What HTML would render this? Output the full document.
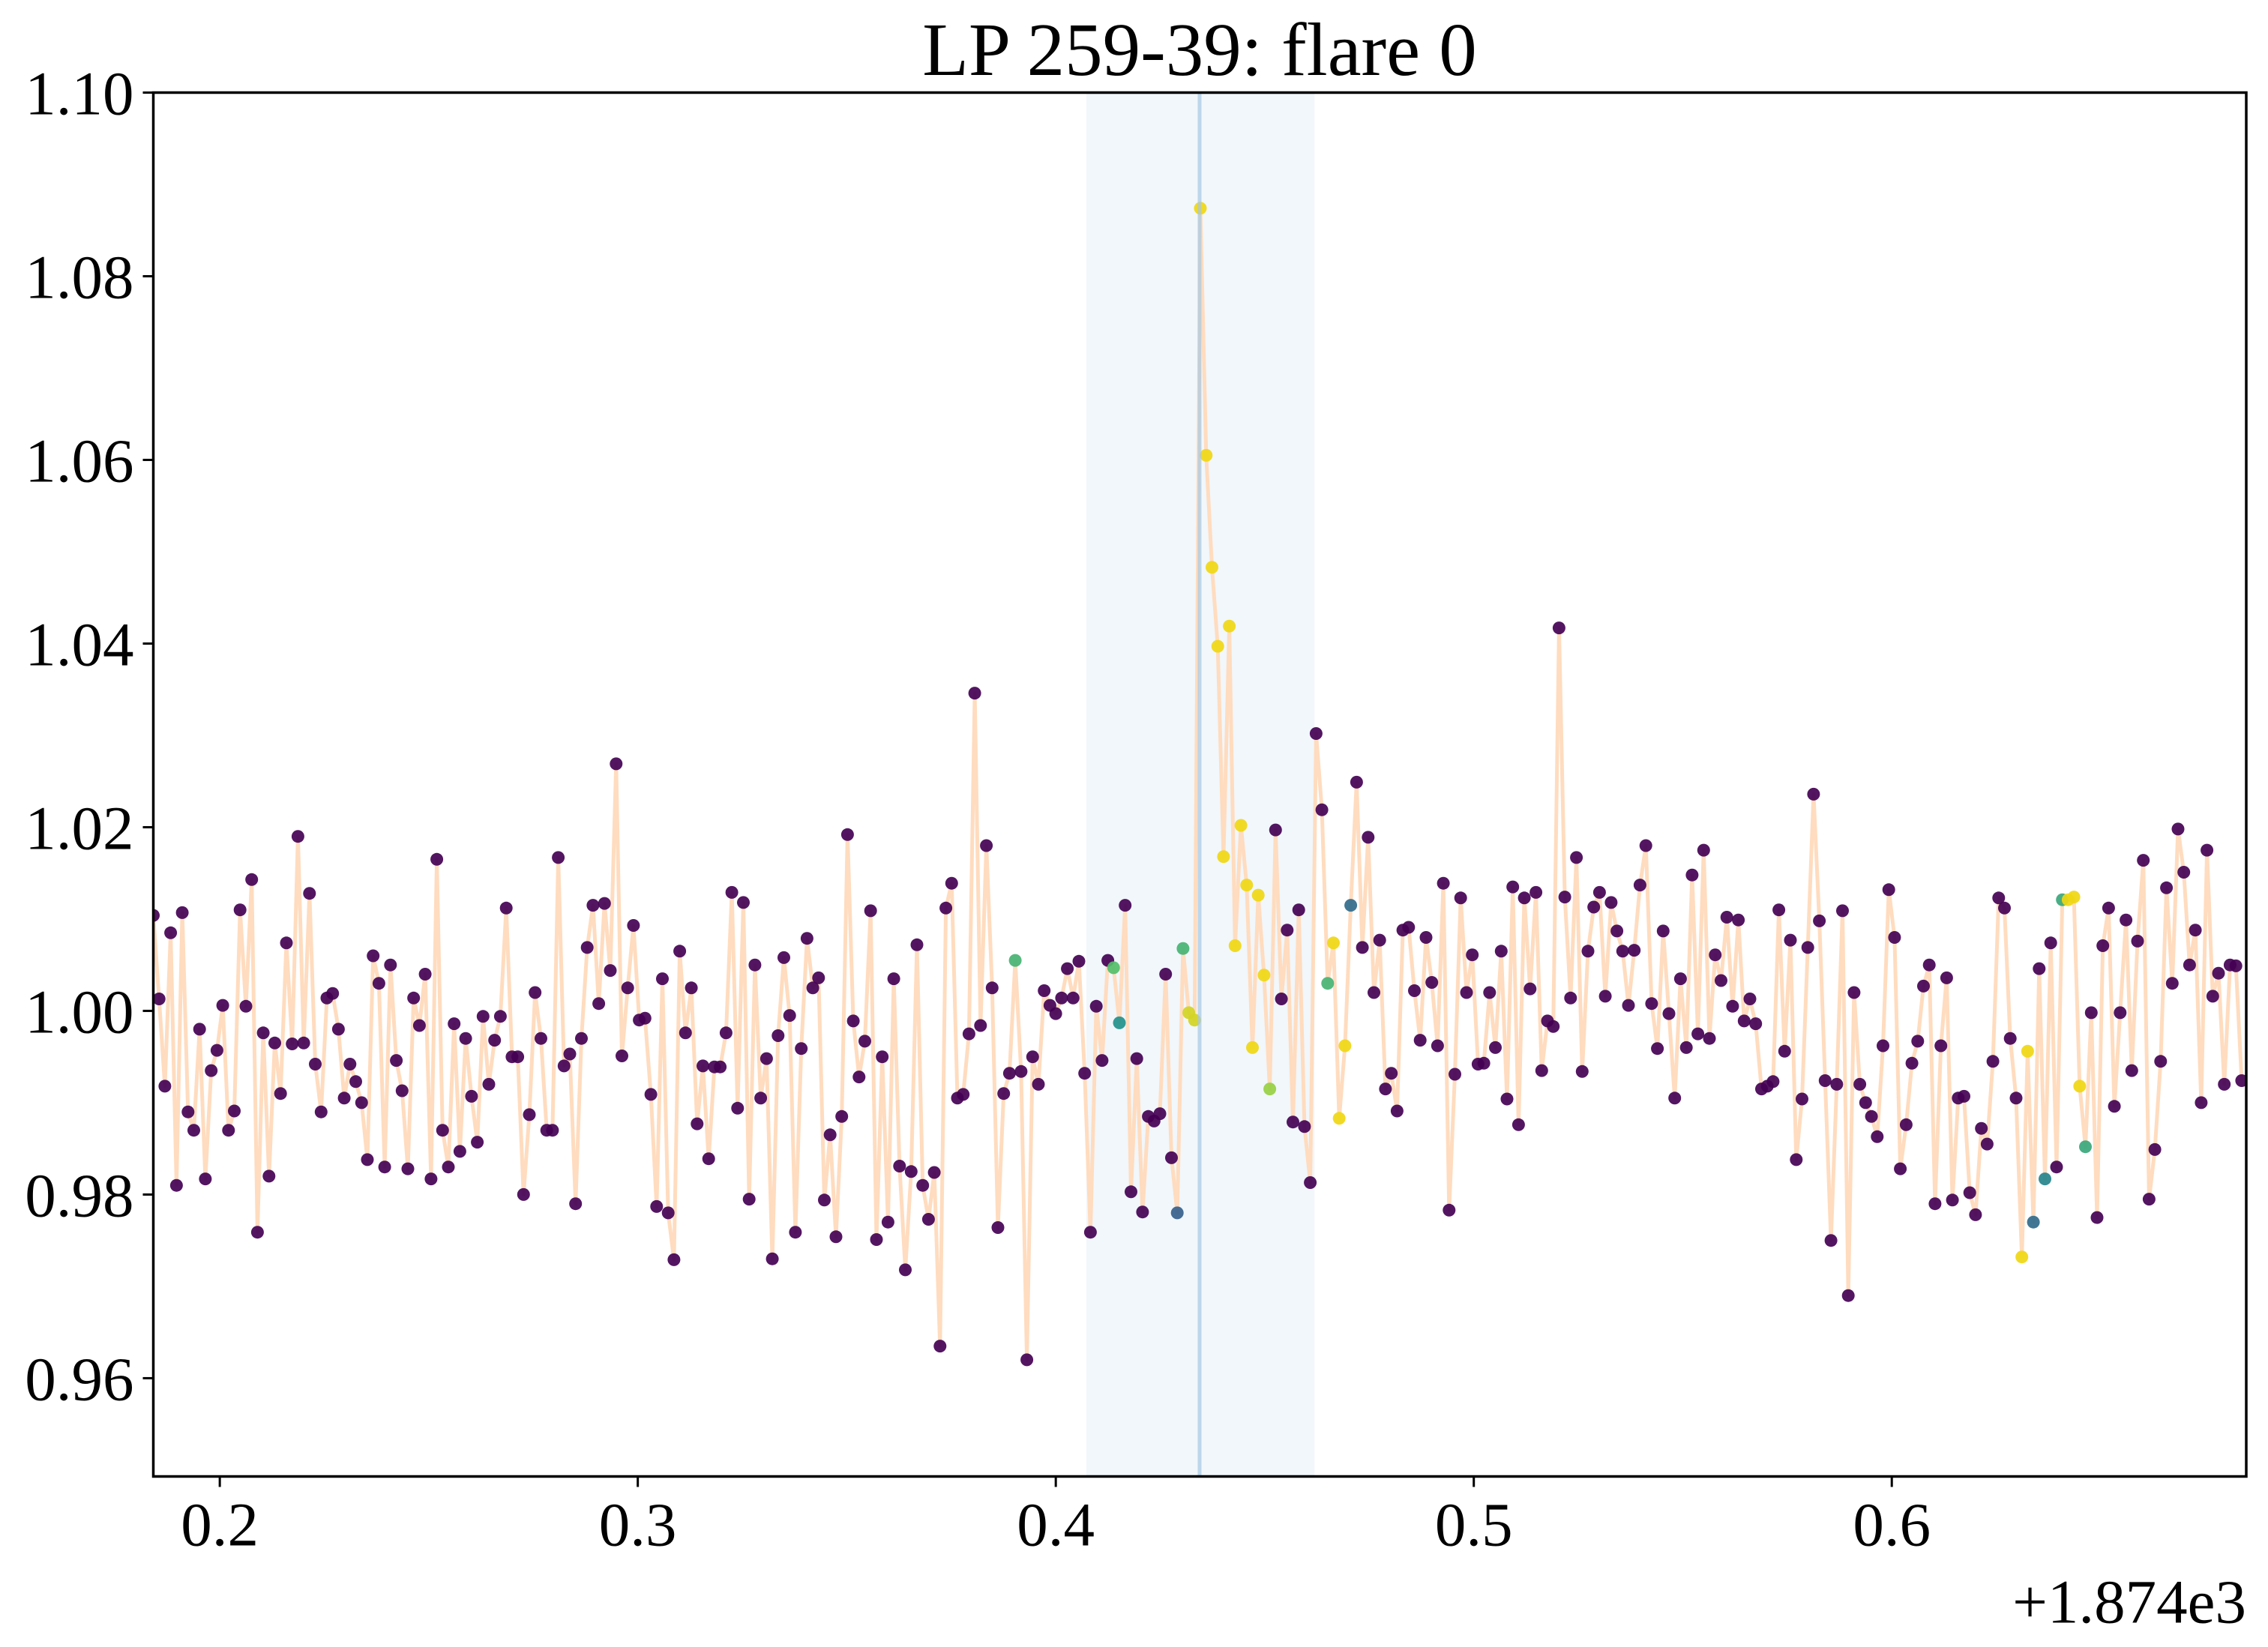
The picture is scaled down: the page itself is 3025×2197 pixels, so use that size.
<!DOCTYPE html>
<html><head><meta charset="utf-8"><style>
html,body{margin:0;padding:0;background:#fff}
svg{display:block}
text{font-family:"Liberation Serif",serif;fill:#000}
</style></head><body>
<svg id="chart" width="3025" height="2197" viewBox="0 0 3025 2197" xmlns="http://www.w3.org/2000/svg">
<rect width="3025" height="2197" fill="#fff"/>
<text x="1600" y="100" font-size="101" text-anchor="middle">LP 259-39: flare 0</text>
<g id="plot"></g>
</svg>
<script>
const xTicks = [0.2, 0.3, 0.4, 0.5, 0.6];
const xTickLabels = ["0.2", "0.3", "0.4", "0.5", "0.6"];
const yTicks = [0.96, 0.98, 1.00, 1.02, 1.04, 1.06, 1.08, 1.10];
const yTickLabels = ["0.96", "0.98", "1.00", "1.02", "1.04", "1.06", "1.08", "1.10"];
const xDomain = [0.1841, 0.6848];
const yDomain = [0.9493, 1.10];
const timeStart = 0.1841;
const timeEnd = 0.6837;
const flareSpan = [0.4073, 0.4619];
const flarePeakTime = 0.4344;
const offsetLabel = "+1.874e3";
// flux values in time order; [value, prob] marks points with nonzero flare probability
const fluxRaw = [1.0104,1.0013,0.9918,1.0085,0.981,1.0107,0.989,0.987,0.998,0.9817,0.9935,0.9957,1.0006,0.987,0.9891,1.011,1.0005,1.0143,0.9759,0.9976,0.982,0.9965,0.991,1.0074,0.9964,1.019,0.9965,1.0128,0.9942,0.989,1.0014,1.0019,0.998,0.9905,0.9942,0.9923,0.99,0.9838,1.006,1.003,0.983,1.005,0.9946,0.9913,0.9828,1.0014,0.9984,1.004,0.9817,1.0165,0.987,0.983,0.9986,0.9847,0.997,0.9907,0.9857,0.9994,0.992,0.9968,0.9994,1.0112,0.995,0.995,0.980,0.9887,1.002,0.997,0.987,0.987,1.0167,0.994,0.9953,0.979,0.997,1.0069,1.0115,1.0008,1.0117,1.0044,1.0269,0.9951,1.0025,1.0093,0.999,0.9992,0.9909,0.9787,1.0035,0.978,0.9729,1.0065,0.9976,1.0025,0.9877,0.994,0.9839,0.9939,0.9939,0.9976,1.0129,0.9894,1.0118,0.9795,1.005,0.9905,0.9948,0.973,0.9973,1.0058,0.9995,0.9759,0.9959,1.0079,1.0025,1.0036,0.9794,0.9865,0.9754,0.9885,1.0192,0.9989,0.9928,0.9967,1.0109,0.9751,0.995,0.977,1.0035,0.9831,0.9718,0.9825,1.0072,0.981,0.9773,0.9824,0.9635,1.0112,1.0139,0.9905,0.9909,0.9975,1.0346,0.9984,1.018,1.0025,0.9764,0.991,0.9932,[1.0055,0.65],0.9934,0.962,0.995,0.992,1.0022,1.0006,0.9997,1.0014,1.0046,1.0014,1.0054,0.9932,0.9759,1.0005,0.9946,1.0055,[1.0047,0.7],[0.9987,0.5],1.0115,0.9803,0.9948,0.9781,0.9885,0.988,0.9888,1.004,0.984,[0.978,0.3],[1.0068,0.65],[0.9998,0.95],[0.999,0.95],[1.0874,1],[1.0605,1],[1.0483,1],[1.0397,1],[1.0168,1],[1.0419,1],[1.0071,1],[1.0202,1],[1.0137,1],[0.996,1],[1.0126,1],[1.0039,1],[0.9915,0.85],1.0197,1.0013,1.0088,0.9879,1.011,0.9874,0.9813,1.0302,1.0219,[1.003,0.65],[1.0074,1],[0.9883,1],[0.9962,1],[1.0115,0.35],1.0249,1.0069,1.0189,1.002,1.0077,0.9915,0.9932,0.9891,1.0088,1.0091,1.0022,0.9968,1.008,1.0031,0.9962,1.0139,0.9783,0.9931,1.0123,1.002,1.0061,0.9942,0.9943,1.002,0.996,1.0065,0.9904,1.0135,0.9876,1.0123,1.0024,1.0129,0.9935,0.9989,0.9983,1.0417,1.0124,1.0014,1.0167,0.9934,1.0065,1.0113,1.0129,1.0016,1.0118,1.0087,1.0065,1.0006,1.0066,1.0137,1.018,1.0008,0.9959,1.0087,0.9997,0.9905,1.0035,0.996,1.0148,0.9975,1.0175,0.997,1.0061,1.0033,1.0102,1.0005,1.0099,0.9989,1.0013,0.9986,0.9915,0.9918,0.9923,1.011,0.9956,1.0077,0.9838,0.9904,1.0069,1.0236,1.0098,0.9924,0.975,0.992,1.0109,0.969,1.002,0.992,0.990,0.9885,0.9863,0.9962,1.0132,1.008,0.9828,0.9876,0.9943,0.9967,1.0027,1.005,0.979,0.9962,1.0036,0.9794,0.9905,0.9907,0.9802,0.9778,0.9872,0.9855,0.9945,1.0123,1.0112,0.997,0.9905,[0.9732,1],[0.9956,1],[0.977,0.35],1.0046,[0.9817,0.45],1.0074,0.983,[1.0121,0.6],[1.0121,1],[1.0124,1],[0.9918,1],[0.9852,0.6],0.9998,0.9775,1.0071,1.0112,0.9896,0.9998,1.0099,0.9935,1.0076,1.0164,0.9795,0.9849,0.9945,1.0134,1.003,1.0198,1.0151,1.005,1.0088,0.990,1.0175,1.0016,1.0041,0.992,1.005,1.0049,0.9924];
const fluxValues = fluxRaw.map(v => Array.isArray(v) ? v[0] : v);
const flareProb = fluxRaw.map(v => Array.isArray(v) ? v[1] : 0);

const L = 204.5, R = 2996, T = 123.5, B = 1969.5;
const NS = "http://www.w3.org/2000/svg";
const g = document.getElementById('plot');
function xs(v){ return L + (v - xDomain[0]) / (xDomain[1] - xDomain[0]) * (R - L); }
function ys(v){ return B - (v - yDomain[0]) / (yDomain[1] - yDomain[0]) * (B - T); }
function mk(tag, attrs){ const e = document.createElementNS(NS, tag); for (const k in attrs) e.setAttribute(k, attrs[k]); g.appendChild(e); return e; }
function viridis(p){
  const stops = [[0,[68,1,84]],[0.25,[59,82,139]],[0.5,[33,145,140]],[0.75,[94,201,98]],[1,[240,215,20]]];
  for (let i = 1; i < stops.length; i++) {
    if (p <= stops[i][0]) {
      const a = stops[i-1], b = stops[i], f = (p - a[0]) / (b[0] - a[0]);
      const c = a[1].map((x, j) => Math.round(x + (b[1][j] - x) * f));
      return 'rgb(' + c.join(',') + ')';
    }
  }
  return 'rgb(240,215,20)';
}
const n = fluxValues.length;
const cadence = (timeEnd - timeStart) / (n - 1);
const times = fluxValues.map((_, i) => timeStart + i * cadence);

const clip = mk('clipPath', {id: 'plotclip'});
const cr = document.createElementNS(NS, 'rect');
cr.setAttribute('x', L); cr.setAttribute('y', T); cr.setAttribute('width', R - L); cr.setAttribute('height', B - T);
clip.appendChild(cr);

const span = mk('rect', {x: xs(flareSpan[0]), y: T, width: xs(flareSpan[1]) - xs(flareSpan[0]), height: B - T, fill: '#f1f7fb'});



const data = g.appendChild(document.createElementNS(NS, 'g'));
data.setAttribute('clip-path', 'url(#plotclip)');


const line = document.createElementNS(NS, 'polyline');
line.setAttribute('points', times.map((t, i) => xs(t).toFixed(1) + ',' + ys(fluxValues[i]).toFixed(1)).join(' '));
line.setAttribute('fill', 'none');
line.setAttribute('stroke', '#ffdcbf');
line.setAttribute('stroke-width', '5');
line.setAttribute('stroke-linejoin', 'round');


data.appendChild(line);
times.forEach((t, i) => {
  const c = document.createElementNS(NS, 'circle');
  c.setAttribute('cx', xs(t).toFixed(1));
  c.setAttribute('cy', ys(fluxValues[i]).toFixed(1));
  c.setAttribute('r', '8.5');
  c.setAttribute('fill', viridis(flareProb[i]));
  c.setAttribute('fill-opacity', '0.92');
  
  
  data.appendChild(c);
});
const vl = mk('line', {x1: xs(flarePeakTime), x2: xs(flarePeakTime), y1: T, y2: B, stroke: '#a6c8e2', 'stroke-width': 5, 'stroke-opacity': 0.7});



const frame = mk('rect', {x: L, y: T, width: R - L, height: B - T, fill: 'none', stroke: '#000', 'stroke-width': 3.5});



xTicks.forEach((v, i) => {
  const x = xs(v);
  const tk = mk('line', {x1: x, x2: x, y1: B, y2: B + 14, stroke: '#000', 'stroke-width': 3});
  
  
  const tx = mk('text', {x: x, y: B + 92, 'font-size': 83, 'text-anchor': 'middle'});
  tx.textContent = xTickLabels[i];
  
  
});
yTicks.forEach((v, i) => {
  const y = ys(v);
  const tk = mk('line', {x1: L - 14, x2: L, y1: y, y2: y, stroke: '#000', 'stroke-width': 3});
  
  
  const tx = mk('text', {x: L - 26, y: y + 29, 'font-size': 83, 'text-anchor': 'end'});
  tx.textContent = yTickLabels[i];
  
  
});
const off = mk('text', {x: R, y: B + 195, 'font-size': 83, 'text-anchor': 'end'});
off.textContent = offsetLabel;


</script>
</body></html>
